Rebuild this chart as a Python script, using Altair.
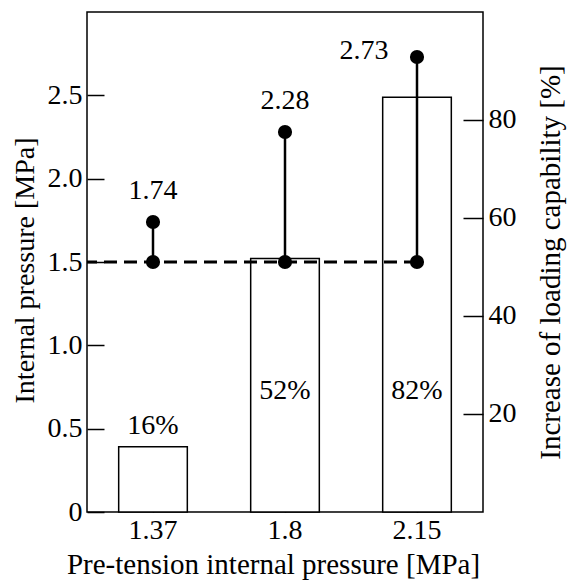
import altair as alt
import pandas as pd

categories = ["1.37", "1.8", "2.15"]
design_pressure = [1.5, 1.5, 1.5]
max_pressure = [1.74, 2.28, 2.73]
pressure_labels = ["1.74", "2.28", "2.73"]
bar_increase = [13.3, 51.7, 84.6]
bar_labels = ["16%", "52%", "82%"]
left_ticks = [0, 0.5, 1.0, 1.5, 2.0, 2.5]
right_ticks = [20, 40, 60, 80]

df = pd.DataFrame({
    "cat": categories,
    "base": design_pressure,
    "top": max_pressure,
    "plabel": pressure_labels,
    "pct": bar_increase,
    "blabel": bar_labels,
})

FONT = "'Liberation Serif', 'Times New Roman', 'DejaVu Serif', serif"
FS = 28
TFS = 29

x_axis = alt.Axis(
    title="Pre-tension internal pressure [MPa]", orient="bottom", offset=-17,
    tickSize=17, tickWidth=1.5, tickColor="black", domain=False, labelAngle=0,
    labelPadding=4, titlePadding=6, titleX=186, labelFont=FONT, titleFont=FONT,
    labelFontSize=FS, titleFontSize=TFS, labelColor="black", titleColor="black",
    titleFontWeight="normal",
)
x_scale = alt.Scale(paddingInner=0.48, paddingOuter=0.24)
X = alt.X("cat:N", sort=categories, scale=x_scale, axis=x_axis)

left_scale = alt.Scale(domain=[0, 3.0], nice=False, zero=True)
left_axis = alt.Axis(
    title="Internal pressure [MPa]", orient="left", values=left_ticks, offset=-17,
    tickSize=17, tickWidth=1.5, tickColor="black", domain=False, grid=False,
    labelExpr="datum.value == 0 ? '0' : format(datum.value, '.1f')",
    labelPadding=5, titlePadding=8, titleY=258, labelFont=FONT, titleFont=FONT,
    labelFontSize=FS, titleFontSize=FS, labelColor="black", titleColor="black",
    titleFontWeight="normal",
)
right_scale = alt.Scale(domain=[0, 102], nice=False, zero=True)
right_axis = alt.Axis(
    title="Increase of loading capability [%]", orient="right", values=right_ticks,
    offset=-20, tickSize=20, tickWidth=1.5, tickColor="black", domain=False,
    grid=False, labelPadding=5, titlePadding=20, titleAngle=270, titleBaseline="top",
    labelFont=FONT, titleFont=FONT,
    labelFontSize=FS, titleFontSize=TFS, labelColor="black", titleColor="black",
    titleFontWeight="normal",
)

base = alt.Chart(df)

# Right-axis group: bars and their labels
bars = base.mark_bar(fill="white", stroke="black", strokeWidth=1.5).encode(
    x=X, y=alt.Y("pct:Q", scale=right_scale, axis=right_axis)
)
bar_lab_top = base.transform_filter(alt.datum.cat == categories[0]).mark_text(
    font=FONT, fontSize=FS, baseline="middle", dy=-21, color="black"
).encode(x=X, y=alt.Y("pct:Q", scale=right_scale, axis=right_axis), text="blabel:N")
bar_lab_in = base.transform_filter(alt.datum.cat != categories[0]).mark_text(
    font=FONT, fontSize=FS, baseline="middle", color="black"
).encode(x=X, y=alt.datum(24.6), text="blabel:N")
right_group = alt.layer(bars, bar_lab_top, bar_lab_in)

# Left-axis group: design line, lollipops, values
Y_base = alt.Y("base:Q", scale=left_scale, axis=left_axis)
dashed = base.transform_filter(alt.datum.cat == categories[-1]).mark_rule(
    strokeDash=[13, 7], strokeWidth=2.8, color="black"
).encode(x=X, x2=alt.value(0), y=Y_base)
stems = base.mark_rule(strokeWidth=2.5, color="black").encode(
    x=X, y=Y_base, y2="top:Q"
)
dots_base = base.mark_circle(size=200, color="black", opacity=1).encode(x=X, y=Y_base)
dots_top = base.mark_circle(size=200, color="black", opacity=1).encode(
    x=X, y=alt.Y("top:Q", scale=left_scale, axis=left_axis)
)
val_lab = base.transform_filter(alt.datum.cat != categories[-1]).mark_text(
    font=FONT, fontSize=FS, baseline="middle", dy=-31, color="black"
).encode(x=X, y=alt.Y("top:Q", scale=left_scale, axis=left_axis), text="plabel:N")
val_lab_last = base.transform_filter(alt.datum.cat == categories[-1]).mark_text(
    font=FONT, fontSize=FS, baseline="middle", dx=-53, dy=-6, color="black"
).encode(x=X, y=alt.Y("top:Q", scale=left_scale, axis=left_axis), text="plabel:N")
left_group = alt.layer(dashed, stems, dots_base, dots_top, val_lab, val_lab_last)

chart = alt.layer(right_group, left_group).resolve_scale(y="independent").properties(
    width=396, height=500,
    background="white",
    autosize=alt.AutoSizeParams(type="none"),
    padding={"left": 79, "top": 4, "right": 85, "bottom": 70},
).configure_view(stroke="black", strokeWidth=1.5)

chart.save("out.html", embed_options={"renderer": "svg", "actions": False})
